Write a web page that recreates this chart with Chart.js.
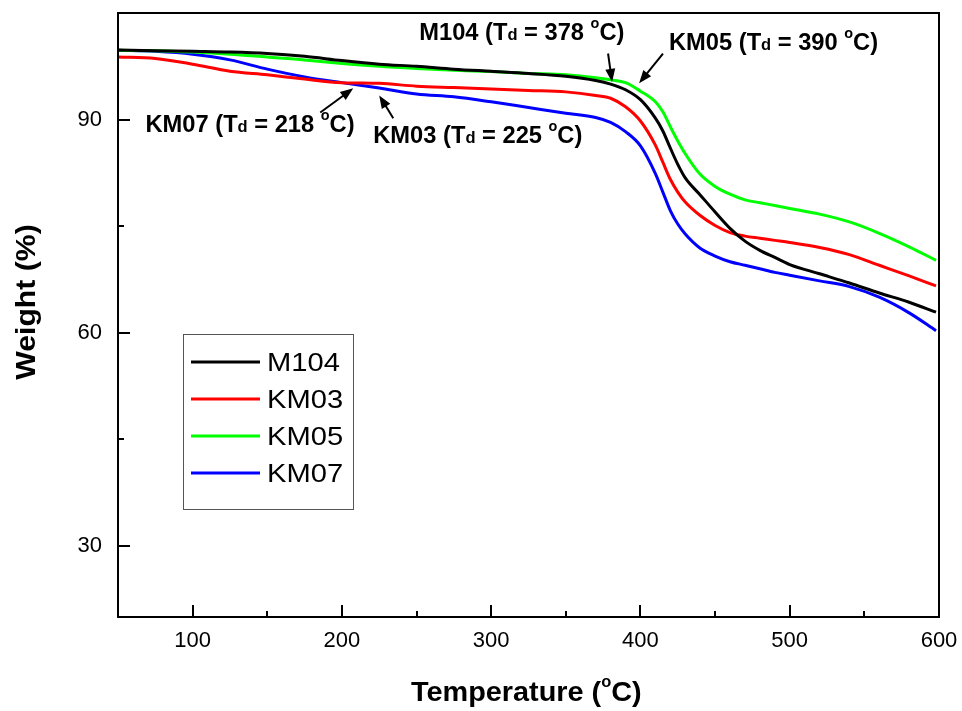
<!DOCTYPE html>
<html>
<head>
<meta charset="utf-8">
<script src="https://cdn.jsdelivr.net/npm/chart.js@4.4.0/dist/chart.umd.min.js"></script>
<style>
    html, body { margin: 0; padding: 0; background: #fff; }
</style>
</head>
<body>
<canvas id="tgaChart" width="962" height="711"></canvas>
<script>
// ------------------- DATOS -------------------

// Temperatura (°C), común a las cuatro curvas TGA
const temperaturas = [50, 75, 100, 125, 150, 175, 200, 225, 250, 275, 300, 325, 350, 370, 380, 390,
    400, 410, 415, 420, 425, 430, 440, 450, 460, 470, 480, 490, 500, 520, 540, 560, 580, 598];

// Peso residual (%) de cada muestra
const pesoM104 = [99.8, 99.7, 99.6, 99.5, 99.3, 98.9, 98.3, 97.8, 97.5, 97.1, 96.8, 96.5, 96.1, 95.5, 95.0, 94.2,
    92.8, 90.2, 88.4, 86.0, 83.7, 81.8, 79.4, 77.0, 74.7, 72.9, 71.6, 70.6, 69.6, 68.3, 67.0, 65.6, 64.3, 62.9];
const pesoKM03 = [98.8, 98.6, 97.8, 96.8, 96.3, 95.7, 95.2, 95.1, 94.7, 94.5, 94.3, 94.1, 93.9, 93.4, 93.0, 91.8,
    89.8, 86.4, 84.0, 81.6, 79.8, 78.4, 76.5, 75.1, 74.1, 73.6, 73.3, 73.0, 72.7, 72.0, 71.0, 69.5, 68.0, 66.6];
const pesoKM05 = [99.75, 99.7, 99.5, 99.2, 98.8, 98.4, 97.9, 97.5, 97.2, 96.95, 96.75, 96.5, 96.3, 95.9, 95.6, 95.2,
    94.0, 92.5, 91.1, 89.0, 87.0, 85.2, 82.3, 80.6, 79.5, 78.7, 78.3, 77.9, 77.5, 76.7, 75.6, 74.0, 72.1, 70.2];
const pesoKM07 = [99.75, 99.6, 99.2, 98.4, 97.1, 96.0, 95.2, 94.45, 93.6, 93.2, 92.5, 91.7, 90.9, 90.3, 89.6, 88.3,
    86.3, 82.4, 79.8, 77.2, 75.3, 73.9, 71.9, 70.8, 70.0, 69.5, 69.0, 68.5, 68.1, 67.3, 66.5, 65.0, 62.8, 60.3];

const muestras = ['M104', 'KM03', 'KM05', 'KM07'];
const colores = ['#000000', '#ff0000', '#00ff00', '#0000ff'];

// Marcas de los ejes
const ticksX = [100, 200, 300, 400, 500, 600];
const ticksXMenores = [100, 150, 200, 250, 300, 350, 400, 450, 500, 550];
const ticksY = [30, 60, 90];
const ticksYMenores = [45, 75];

// Anotaciones de Td: texto, temperatura de la flecha (cola -> punta) y posición del texto
const anotaciones = [
    { muestra: 'M104', td: '378', texto: [251.8, 101.2], cola: [378.3, 99.3], punta: [381.0, 95.3] },
    { muestra: 'KM05', td: '390', texto: [419.1, 99.75], cola: [415.1, 99.3], punta: [399.1, 95.1] },
    { muestra: 'KM07', td: '218', texto: [68.4, 88.2], cola: [185.5, 91.0], punta: [207.6, 94.4] },
    { muestra: 'KM03', td: '225', texto: [221.0, 86.7], cola: [234.4, 90.2], punta: [225.0, 93.4] }
];

// ------------------- FUNCIONES -------------------

// Dibuja texto con un leve ensanchado horizontal
function texto(ctx, str, x, y, font, estirar = 1, align = 'left', base = 'alphabetic') {
    ctx.save();
    ctx.font = font;
    ctx.textAlign = align;
    ctx.textBaseline = base;
    ctx.translate(x, y);
    ctx.scale(estirar, 1);
    ctx.fillText(str, 0, 0);
    const w = ctx.measureText(str).width * estirar;
    ctx.restore();
    return w;
}

// Texto por tramos (subíndice "d", superíndice "o")
function textoCompuesto(ctx, tramos, x, y, estirar = 1) {
    let cx = x;
    tramos.forEach(t => {
        cx += texto(ctx, t.s, cx, y - (t.subir || 0), t.font, estirar);
    });
    return cx - x;
}

function flecha(ctx, x1, y1, x2, y2) {
    const ang = Math.atan2(y2 - y1, x2 - x1);
    const largo = 13, ancho = 5;
    ctx.beginPath();
    ctx.moveTo(x1, y1);
    ctx.lineTo(x2 - Math.cos(ang) * largo * 0.8, y2 - Math.sin(ang) * largo * 0.8);
    ctx.stroke();
    ctx.beginPath();
    ctx.moveTo(x2, y2);
    ctx.lineTo(x2 - Math.cos(ang) * largo - Math.sin(ang) * ancho, y2 - Math.sin(ang) * largo + Math.cos(ang) * ancho);
    ctx.lineTo(x2 - Math.cos(ang) * largo + Math.sin(ang) * ancho, y2 - Math.sin(ang) * largo - Math.cos(ang) * ancho);
    ctx.closePath();
    ctx.fill();
}

// Marco, marcas interiores, etiquetas, títulos, leyenda y anotaciones
const marcoPlugin = {
    id: 'marco',
    afterDraw(chart) {
        const { ctx, chartArea: a, scales: { x, y } } = chart;
        ctx.save();
        ctx.strokeStyle = '#000';
        ctx.fillStyle = '#000';
        ctx.lineWidth = 2;
        ctx.lineCap = 'butt';

        // Marco del gráfico
        ctx.strokeRect(a.left, a.top, a.right - a.left, a.bottom - a.top);

        // Marcas hacia adentro
        ctx.beginPath();
        ticksXMenores.forEach(v => {
            const px = Math.round(x.getPixelForValue(v));
            const len = v % 100 === 0 ? 12 : 6;
            ctx.moveTo(px, a.bottom);
            ctx.lineTo(px, a.bottom - len);
        });
        ticksY.concat(ticksYMenores).forEach(v => {
            const py = Math.round(y.getPixelForValue(v));
            const len = v % 30 === 0 ? 12 : 6;
            ctx.moveTo(a.left, py);
            ctx.lineTo(a.left + len, py);
        });
        ctx.stroke();

        // Etiquetas de los ejes
        const fTick = '22px "Liberation Sans", Arial, sans-serif';
        ticksX.forEach(v => texto(ctx, String(v), x.getPixelForValue(v), a.bottom + 24, fTick, 1, 'center', 'middle'));
        ticksY.forEach(v => texto(ctx, String(v), a.left - 16, y.getPixelForValue(v), fTick, 1, 'right', 'middle'));

        // Título del eje X: Temperature (°C)
        const fTit = 'bold 28px "Liberation Sans", Arial, sans-serif';
        const fSup = 'bold 16px "Liberation Sans", Arial, sans-serif';
        textoCompuesto(ctx, [
            { s: 'Temperature (', font: fTit },
            { s: 'o', font: fSup, subir: 14 },
            { s: 'C)', font: fTit }
        ], 411, 701, 1.03);

        // Título del eje Y
        ctx.save();
        ctx.translate(35, (a.top + a.bottom) / 2 - 13);
        ctx.rotate(-Math.PI / 2);
        texto(ctx, 'Weight (%)', 0, 0, 'bold 27px "Liberation Sans", Arial, sans-serif', 1.12, 'center');
        ctx.restore();

        // Leyenda
        ctx.lineWidth = 1;
        ctx.strokeStyle = '#555';
        ctx.strokeRect(183.5, 334.5, 170, 175);
        muestras.forEach((m, i) => {
            const cy = 362 + i * 37;
            ctx.strokeStyle = colores[i];
            ctx.lineWidth = 3;
            ctx.beginPath();
            ctx.moveTo(191, cy);
            ctx.lineTo(260, cy);
            ctx.stroke();
            texto(ctx, m, 267, cy + 9, '26px "Liberation Sans", Arial, sans-serif', 1.12);
        });

        // Anotaciones de temperatura de descomposición
        const fAn = 'bold 23px "Liberation Sans", Arial, sans-serif';
        const fD = 'bold 16px "Liberation Sans", Arial, sans-serif';
        const fO = 'bold 14px "Liberation Sans", Arial, sans-serif';
        ctx.strokeStyle = '#000';
        ctx.fillStyle = '#000';
        ctx.lineWidth = 2;
        anotaciones.forEach(an => {
            textoCompuesto(ctx, [
                { s: an.muestra + ' (T', font: fAn },
                { s: 'd', font: fD },
                { s: ' = ' + an.td + ' ', font: fAn },
                { s: 'o', font: fO, subir: 12 },
                { s: 'C)', font: fAn }
            ], x.getPixelForValue(an.texto[0]), y.getPixelForValue(an.texto[1]), 1.03);
            flecha(ctx,
                x.getPixelForValue(an.cola[0]), y.getPixelForValue(an.cola[1]),
                x.getPixelForValue(an.punta[0]), y.getPixelForValue(an.punta[1]));
        });

        ctx.restore();
    }
};

// ------------------- GRÁFICO -------------------

const series = [pesoM104, pesoKM03, pesoKM05, pesoKM07];

const ctx = document.getElementById('tgaChart').getContext('2d');
new Chart(ctx, {
    type: 'line',
    data: {
        datasets: series.map((peso, i) => ({
            label: muestras[i],
            data: temperaturas.map((t, j) => ({ x: t, y: peso[j] })),
            borderColor: colores[i],
            borderWidth: 3,
            pointRadius: 0,
            cubicInterpolationMode: 'monotone',
            fill: false
        }))
    },
    options: {
        responsive: false,
        animation: false,
        devicePixelRatio: 1,
        layout: {
            padding: { left: 118, top: 13, right: 23, bottom: 94 }
        },
        scales: {
            x: { type: 'linear', min: 50, max: 600, display: false },
            y: { type: 'linear', min: 20, max: 105, display: false }
        },
        plugins: {
            legend: { display: false },
            tooltip: { enabled: false }
        }
    },
    plugins: [marcoPlugin]
});
</script>
</body>
</html>
